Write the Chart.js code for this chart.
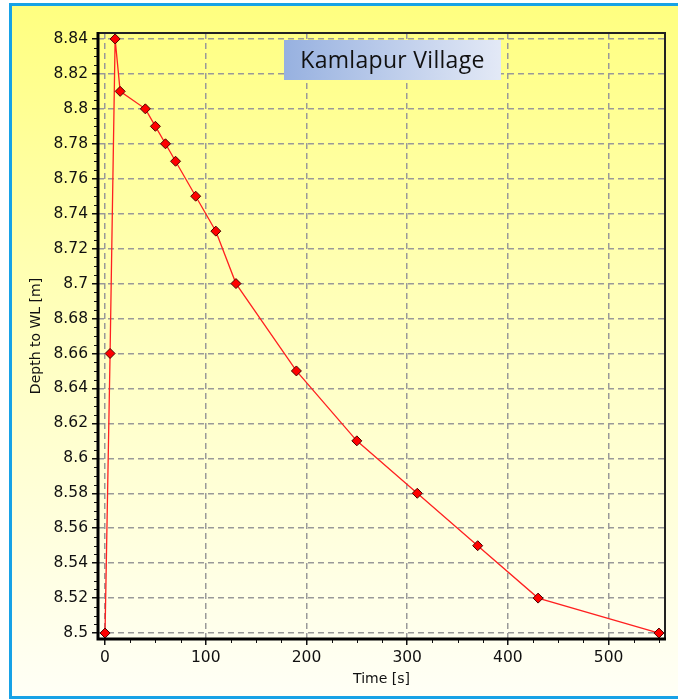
<!DOCTYPE html>
<html>
<head>
<meta charset="utf-8">
<title>Kamlapur Village</title>
<script src="https://cdn.jsdelivr.net/npm/chart.js@4.4.1/dist/chart.umd.min.js"></script>
<style>
  html, body { margin: 0; padding: 0; background: #ffffff; }
  #wrap { position: relative; width: 678px; height: 700px; overflow: hidden; }
  #panel {
    position: absolute; left: 9px; top: 3px; width: 700px; height: 690px;
    border-left: 3px solid #17a2e6; border-top: 3px solid #17a2e6; border-bottom: 3px solid #17a2e6;
    background: linear-gradient(to bottom, #ffff80 0%, #ffffc2 50%, #fffff6 100%);
  }
  #c { position: absolute; left: 0; top: 0; }
</style>
</head>
<body>
<div id="wrap">
  <div id="panel"></div>
  <canvas id="c" width="678" height="700"></canvas>
</div>
<script>
// Recovery test readings: elapsed time and depth to water level
const timeS  = [0, 5, 10, 15, 40, 50, 60, 70, 90, 110, 130, 190, 250, 310, 370, 430, 550];
const depthM = [8.50, 8.66, 8.84, 8.81, 8.80, 8.79, 8.78, 8.77, 8.75, 8.73, 8.70, 8.65, 8.61, 8.58, 8.55, 8.52, 8.50];

// Axis ticks
const xTickValues = [0, 100, 200, 300, 400, 500];
const xTickLabels = ['0', '100', '200', '300', '400', '500'];
const yTickValues = [8.5, 8.52, 8.54, 8.56, 8.58, 8.6, 8.62, 8.64, 8.66, 8.68, 8.7, 8.72, 8.74, 8.76, 8.78, 8.8, 8.82, 8.84];
const yTickLabels = ['8.5', '8.52', '8.54', '8.56', '8.58', '8.6', '8.62', '8.64', '8.66', '8.68', '8.7', '8.72', '8.74', '8.76', '8.78', '8.8', '8.82', '8.84'];

const chartTitle = 'Kamlapur Village';
const xTitle = 'Time [s]';
const yTitle = 'Depth to WL [m]';

const points = timeS.map((t, i) => ({ x: t, y: depthM[i] }));

// Minor ticks, plot frame and the title box
const framePlugin = {
  id: 'frame',
  afterDraw(chart) {
    const { ctx, chartArea: a, scales: { x, y } } = chart;
    ctx.save();

    ctx.strokeStyle = '#111';
    ctx.lineWidth = 1;
    ctx.beginPath();
    for (let t = 25; t < x.max; t += 25) {
      if (t % 100 === 0) continue;
      const px = Math.round(x.getPixelForValue(t)) + 0.5;
      ctx.moveTo(px, a.bottom);
      ctx.lineTo(px, a.bottom + 4);
    }
    for (let i = 1; i < 68; i++) {
      if (i % 4 === 0) continue;
      const py = Math.round(y.getPixelForValue(8.5 + i * 0.005)) + 0.5;
      ctx.moveTo(a.left - 4, py);
      ctx.lineTo(a.left, py);
    }
    ctx.stroke();

    // frame: heavy left/bottom axes, lighter top/right edges
    ctx.strokeStyle = '#222';
    ctx.lineWidth = 2;
    ctx.beginPath();
    ctx.moveTo(a.left, a.top);
    ctx.lineTo(a.right, a.top);
    ctx.lineTo(a.right, a.bottom);
    ctx.stroke();
    ctx.strokeStyle = '#000';
    ctx.lineWidth = 3;
    ctx.beginPath();
    ctx.moveTo(a.left, a.top - 1);
    ctx.lineTo(a.left, a.bottom);
    ctx.lineTo(a.right + 1, a.bottom);
    ctx.stroke();

    // title box
    const bx = 284, by = 40, bw = 217, bh = 40;
    const g = ctx.createLinearGradient(bx, 0, bx + bw, 0);
    g.addColorStop(0, '#97b1e0');
    g.addColorStop(1, '#e3e9f6');
    ctx.fillStyle = g;
    ctx.fillRect(bx, by, bw, bh);
    ctx.fillStyle = '#111';
    ctx.font = '23px "Open Sans", sans-serif';
    ctx.letterSpacing = '0.3px';
    ctx.textAlign = 'center';
    ctx.textBaseline = 'alphabetic';
    ctx.fillText(chartTitle, bx + bw / 2, by + 28);

    ctx.restore();
  }
};

const tickFont = { family: '"DejaVu Sans", sans-serif', size: 15.5 };
const titleFont = { family: '"DejaVu Sans", sans-serif', size: 14 };

function gridOpts() {
  return {
    color: '#999999',
    lineWidth: 1.5,
    drawTicks: true,
    tickLength: 6,
    tickColor: '#111',
    tickWidth: 1.5,
    tickBorderDash: []
  };
}

new Chart(document.getElementById('c'), {
  type: 'scatter',
  data: {
    datasets: [{
      data: points,
      showLine: true,
      borderColor: '#ff2020',
      borderWidth: 1.3,
      pointStyle: 'rectRot',
      pointRadius: 5,
      pointBackgroundColor: '#ff0000',
      pointBorderColor: '#4a0000',
      pointBorderWidth: 1,
      tension: 0,
      clip: false
    }]
  },
  options: {
    responsive: false,
    animation: false,
    events: [],
    layout: { padding: { left: 0, top: 33, right: 13, bottom: 0 }, autoPadding: false },
    plugins: { legend: { display: false }, tooltip: { enabled: false }, title: { display: false } },
    scales: {
      x: {
        type: 'linear',
        min: -7,
        max: 556,
        afterFit(scale) { scale.height = 61; },
        afterBuildTicks(scale) { scale.ticks = xTickValues.map(v => ({ value: v })); },
        border: { display: false, dash: [6, 4] },
        grid: gridOpts(),
        ticks: {
          autoSkip: false,
          maxRotation: 0,
          padding: 4,
          color: '#111',
          font: tickFont,
          callback: (v, i) => xTickLabels[i]
        },
        title: { display: true, text: xTitle, color: '#111', font: titleFont, padding: { top: 0, bottom: 12 } }
      },
      y: {
        type: 'linear',
        min: 8.4966,
        max: 8.8434,
        afterFit(scale) { scale.width = 98; },
        afterBuildTicks(scale) { scale.ticks = yTickValues.map(v => ({ value: v })); },
        border: { display: false, dash: [6, 4] },
        grid: gridOpts(),
        ticks: {
          autoSkip: false,
          padding: 4,
          color: '#111',
          font: tickFont,
          callback: (v, i) => yTickLabels[i]
        },
        title: { display: true, text: yTitle, color: '#111', font: titleFont, padding: { top: 28, bottom: 0 } }
      }
    }
  },
  plugins: [framePlugin]
});
</script>
</body>
</html>
